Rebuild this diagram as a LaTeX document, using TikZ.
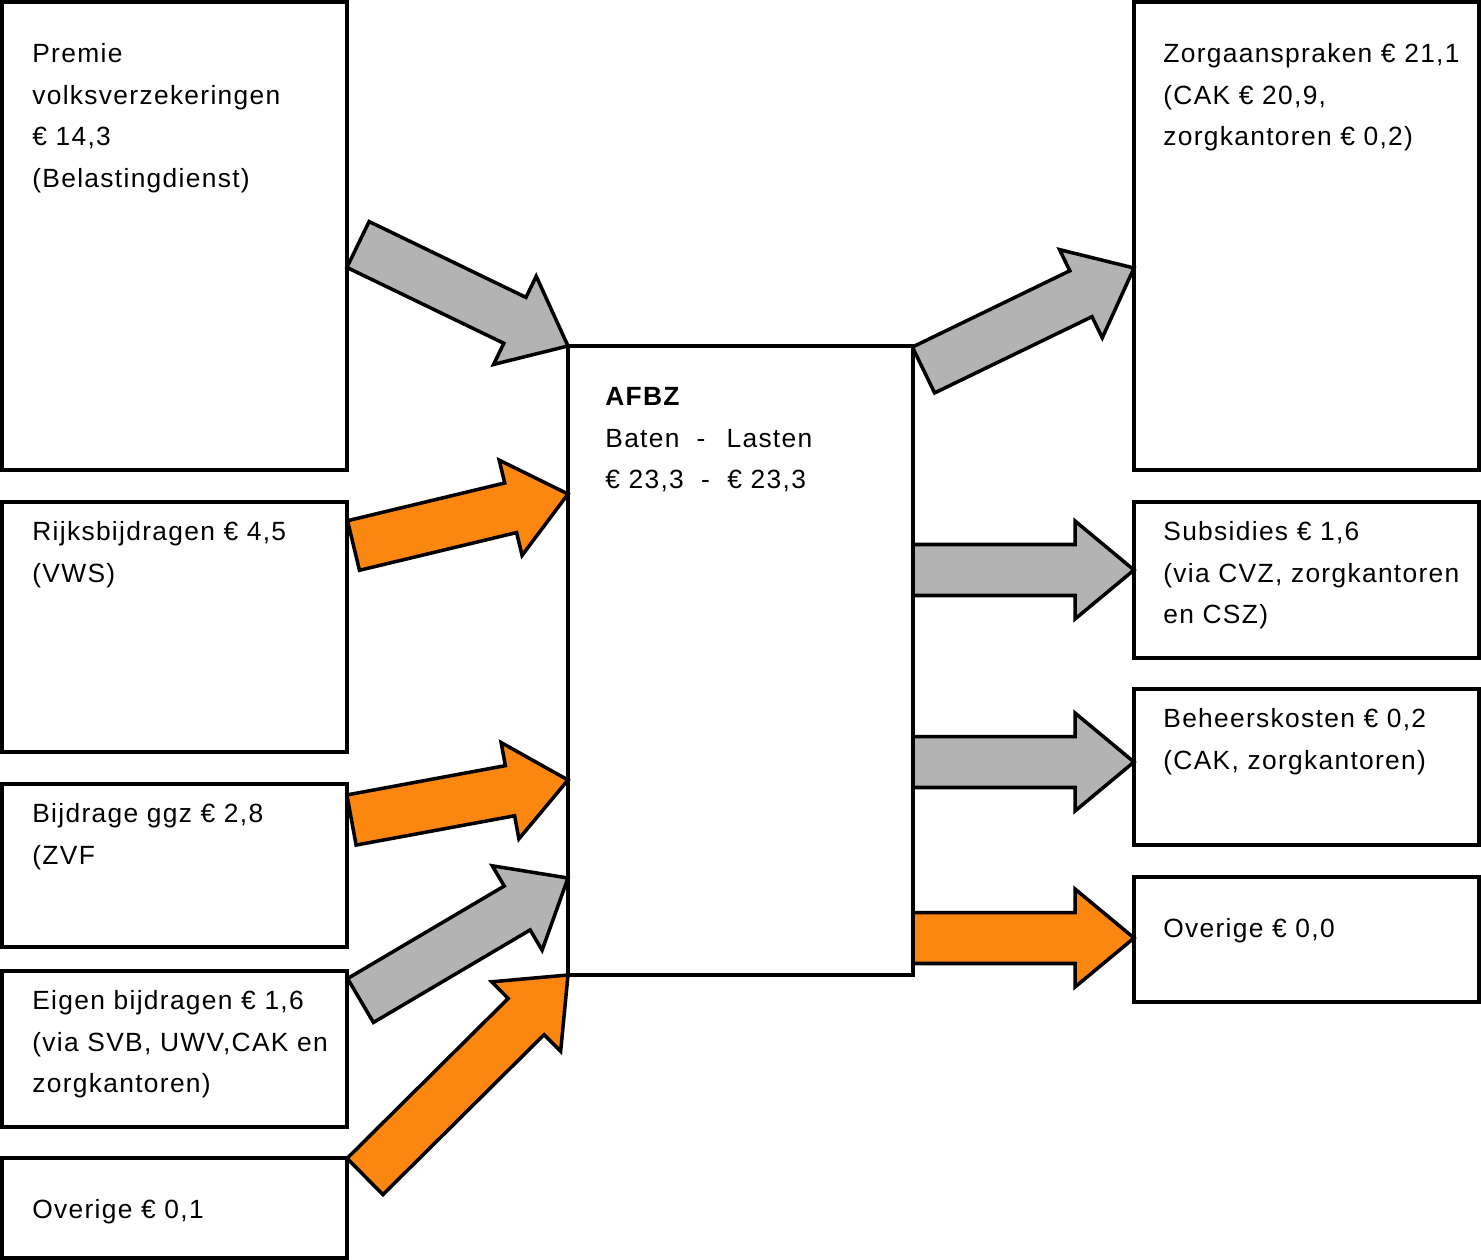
\documentclass[tikz,border=0pt]{standalone}
\usepackage{fontspec}
\setmainfont{Liberation Sans}[LetterSpace=5]
\usetikzlibrary{calc,fit}

\definecolor{flowgray}{RGB}{179,179,179}
\definecolor{floworange}{RGB}{251,135,16}

% block arrow: fill colour, tail (middle), tip
\newcommand{\blockarrow}[3]{%
  \coordinate (ba) at ($#3!1.18cm!#2$);
  \filldraw[flow, fill=#1] ($#2!0.51cm!90:#3$) -- ($(ba)!0.51cm!90:#3$)
    -- ($(ba)!0.98cm!90:#3$) -- #3 -- ($(ba)!0.98cm!-90:#3$)
    -- ($(ba)!0.51cm!-90:#3$) -- ($#2!0.51cm!-90:#3$) -- cycle;
}

\begin{document}
\begin{tikzpicture}[x=0.02cm, y=-0.02cm,
  box/.style={draw, line width=2pt, inner sep=0pt, outer sep=0pt},
  txt/.style={anchor=north west, align=left, inner sep=0pt,
    font=\fontsize{15}{23.85}\selectfont},
  flow/.style={draw=black, line width=2pt, line join=miter}]
\useasboundingbox (0,0) rectangle (1481,1260);

% boxes
\node [box, fit={(2,2) (347,470)}] (premie) {};
\node [box, fit={(2,502) (347,752)}] (rijks) {};
\node [box, fit={(2,784) (347,947)}] (ggz) {};
\node [box, fit={(2,971) (347,1127)}] (eigen) {};
\node [box, fit={(2,1158) (347,1258)}] (overigL) {};
\node [box, fit={(568,346) (913,975)}] (afbz) {};
\node [box, fit={(1134,2) (1479,470)}] (zorg) {};
\node [box, fit={(1134,502) (1479,658)}] (subs) {};
\node [box, fit={(1134,689) (1479,845)}] (beheer) {};
\node [box, fit={(1134,877) (1479,1002)}] (overigR) {};

% texts
\node [txt] (premie-t) at ([shift={(30,30.5)}]premie.north west)
  {\strut Premie\\volksverzekeringen\\€ 14,3\\(Belastingdienst)};
\node [txt] (rijks-t) at ([shift={(30,8.5)}]rijks.north west)
  {\strut Rijksbijdragen € 4,5\\(VWS)};
\node [txt] (ggz-t) at ([shift={(30,8.5)}]ggz.north west)
  {\strut Bijdrage ggz € 2,8\\(ZVF};
\node [txt] (eigen-t) at ([shift={(30,8.5)}]eigen.north west)
  {\strut Eigen bijdragen € 1,6\\(via SVB, UWV,CAK en\\zorgkantoren)};
\node [txt] (overigL-t) at ([shift={(30,30.5)}]overigL.north west)
  {\strut Overige € 0,1};
\node [txt] (afbz-t) at ([shift={(37,29.5)}]afbz.north west)
  {\strut\textbf{AFBZ}\\
   \makebox[52pt][l]{Baten}\makebox[17pt][l]{-}Lasten\\
   \makebox[54.5pt][l]{€ 23,3}\makebox[15pt][l]{-}€ 23,3};
\node [txt] (zorg-t) at ([shift={(29,30.5)}]zorg.north west)
  {\strut Zorgaanspraken € 21,1\\(CAK € 20,9,\\zorgkantoren € 0,2)};
\node [txt] (subs-t) at ([shift={(29,8.5)}]subs.north west)
  {\strut Subsidies € 1,6\\(via CVZ, zorgkantoren\\en CSZ)};
\node [txt] (beheer-t) at ([shift={(29,8.5)}]beheer.north west)
  {\strut Beheerskosten € 0,2\\(CAK, zorgkantoren)};
\node [txt] (overigR-t) at ([shift={(29,30.5)}]overigR.north west)
  {\strut Overige € 0,0};

% arrow ends
\coordinate (premie-a) at (358,244.5);
\coordinate (rijks-a) at (353.5,545.5);
\coordinate (ggz-a) at (351.5,820);
\coordinate (eigen-a) at (360.5,1000.5);
\coordinate (overigL-a) at (365,1176.5);
\coordinate (zorg-a) at (1134,268);
\coordinate (subs-a) at (1134,570);
\coordinate (beheer-a) at (1134,762);
\coordinate (overigR-a) at (1134,938);

% baten
\blockarrow{flowgray}{(premie-a)}{(afbz.north west)}
\blockarrow{floworange}{(rijks-a)}{($(afbz.north west)+(0,148)$)}
\blockarrow{floworange}{(ggz-a)}{($(afbz.north west)+(0,434)$)}
\blockarrow{flowgray}{(eigen-a)}{($(afbz.north west)+(0,532)$)}
\blockarrow{floworange}{(overigL-a)}{(afbz.south west)}
% lasten
\blockarrow{flowgray}{($(afbz.north east)+(10.5,24)$)}{(zorg-a)}
\blockarrow{flowgray}{($(afbz.north east)+(0,224)$)}{(subs-a)}
\blockarrow{flowgray}{($(afbz.north east)+(0,416)$)}{(beheer-a)}
\blockarrow{floworange}{($(afbz.north east)+(0,592)$)}{(overigR-a)}
\end{tikzpicture}
\end{document}
